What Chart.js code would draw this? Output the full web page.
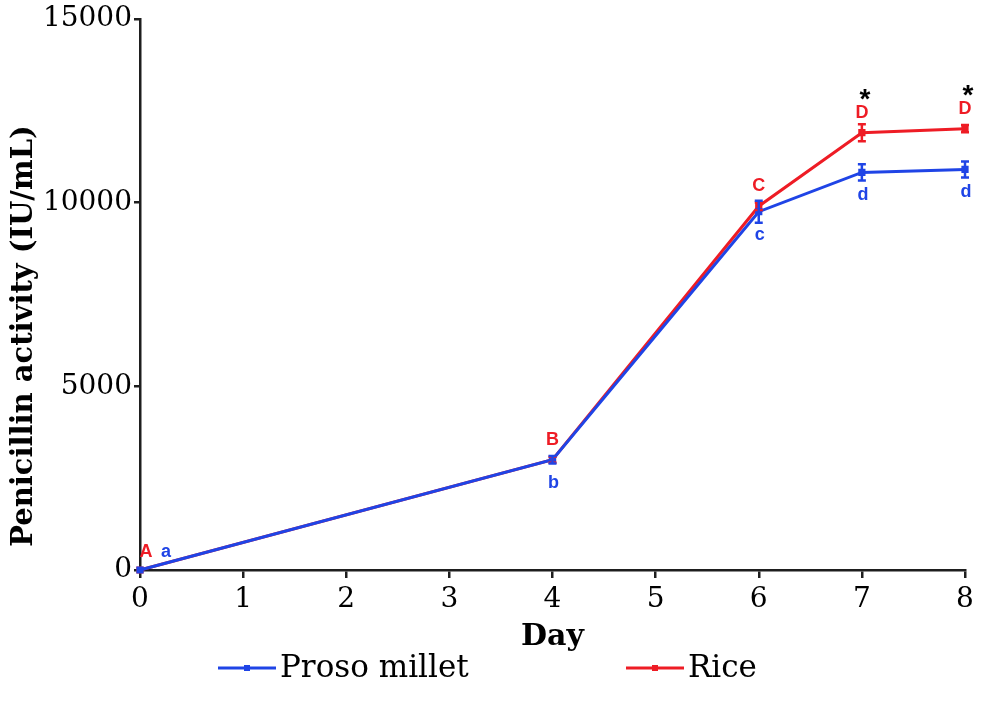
<!DOCTYPE html>
<html>
<head>
<meta charset="utf-8">
<script src="https://cdn.jsdelivr.net/npm/chart.js@4"></script>
<style>
html,body{margin:0;padding:0;background:#fff;}
#wrap{width:1000px;height:707px;}
</style>
</head>
<body>
<div id="wrap"><canvas id="c" width="1000" height="707"></canvas></div>
<script>
const days = [0, 4, 6, 7, 8];
const xTicks = [0, 1, 2, 3, 4, 5, 6, 7, 8];
const yTicks = [0, 5000, 10000, 15000];
const prosoMillet = [0, 3000, 9750, 10820, 10900];
const prosoErr = [0, 100, 300, 220, 220];
const rice = [0, 3000, 9900, 11900, 12010];
const riceErr = [0, 80, 100, 230, 100];
const prosoLetters = ['a', 'b', 'c', 'd', 'd'];
const riceLetters = ['A', 'B', 'C', 'D', 'D'];
const stars = ['', '', '', '*', '*'];
const seriesNames = ['Proso millet', 'Rice'];

const BLUE = '#1f44e6';
const RED = '#ee1c25';
const AXIS = '#1e1e1e';
const SERIF = '"DejaVu Serif", serif';
const SANS = '"Liberation Sans", Arial, sans-serif';

const errorBars = {
  id: 'errorBars',
  afterDatasetsDraw(chart) {
    const ctx = chart.ctx;
    const ys = chart.scales.y;
    const errs = [prosoErr, riceErr];
    ctx.save();
    [1, 0].forEach(di => {
      const meta = chart.getDatasetMeta(di);
      const ds = chart.data.datasets[di];
      ctx.strokeStyle = ds.borderColor;
      ctx.lineWidth = 2.5;
      meta.data.forEach((pt, i) => {
        const e = errs[di][i];
        if (!e) return;
        const v = ds.data[i].y;
        const y1 = ys.getPixelForValue(v - e), y2 = ys.getPixelForValue(v + e);
        ctx.beginPath();
        ctx.moveTo(pt.x, y1); ctx.lineTo(pt.x, y2);
        ctx.moveTo(pt.x - 4, y1); ctx.lineTo(pt.x + 4, y1);
        ctx.moveTo(pt.x - 4, y2); ctx.lineTo(pt.x + 4, y2);
        ctx.stroke();
      });
    });
    ctx.restore();
  }
};

const annotations = {
  id: 'annotations',
  afterDraw(chart) {
    const ctx = chart.ctx;
    const mP = chart.getDatasetMeta(0), mR = chart.getDatasetMeta(1);
    ctx.save();
    const letterFont = 'bold 18px ' + SANS;
    ctx.font = letterFont;
    ctx.textAlign = 'center';
    ctx.textBaseline = 'middle';
    days.forEach((d, i) => {
      const pP = mP.data[i], pR = mR.data[i];
      if (i === 0) {
        ctx.fillStyle = RED; ctx.fillText(riceLetters[i], pR.x + 6, pR.y - 18);
        ctx.fillStyle = BLUE; ctx.fillText(prosoLetters[i], pP.x + 26, pP.y - 18);
      } else {
        ctx.fillStyle = RED; ctx.fillText(riceLetters[i], pR.x, pR.y - 20);
        ctx.fillStyle = BLUE; ctx.fillText(prosoLetters[i], pP.x + 1, pP.y + 23);
      }
      if (stars[i]) {
        ctx.fillStyle = '#000';
        ctx.font = 'bold 28px ' + SANS;
        ctx.fillText(stars[i], pR.x + 3, pR.y - 32);
        ctx.font = letterFont;
      }
    });
    // Y axis title
    ctx.save();
    ctx.translate(24, 336);
    ctx.rotate(-Math.PI / 2);
    ctx.fillStyle = '#000';
    ctx.font = 'bold 29px ' + SERIF;
    ctx.fillText('Penicillin activity (IU/mL)', 0, 0);
    ctx.restore();
    // Legend
    const items = [
      {x: 218, color: BLUE, text: seriesNames[0]},
      {x: 626, color: RED, text: seriesNames[1]}
    ];
    const ly = 668;
    items.forEach(it => {
      ctx.strokeStyle = it.color; ctx.fillStyle = it.color; ctx.lineWidth = 3;
      ctx.beginPath(); ctx.moveTo(it.x, ly); ctx.lineTo(it.x + 58, ly); ctx.stroke();
      ctx.fillRect(it.x + 26, ly - 3, 6, 6);
      ctx.fillStyle = '#000';
      ctx.font = '31px ' + SERIF;
      ctx.textAlign = 'left';
      ctx.fillText(it.text, it.x + 62, ly + 1);
    });
    ctx.restore();
  }
};

new Chart(document.getElementById('c'), {
  type: 'line',
  data: {
    datasets: [
      {
        label: seriesNames[0],
        data: days.map((d, i) => ({x: d, y: prosoMillet[i]})),
        borderColor: BLUE, backgroundColor: BLUE,
        borderWidth: 3, pointStyle: 'rect', pointRadius: 3, pointHoverRadius: 3,
        tension: 0, clip: false
      },
      {
        label: seriesNames[1],
        data: days.map((d, i) => ({x: d, y: rice[i]})),
        borderColor: RED, backgroundColor: RED,
        borderWidth: 3, pointStyle: 'rect', pointRadius: 3, pointHoverRadius: 3,
        tension: 0, clip: false
      }
    ]
  },
  options: {
    responsive: false,
    animation: false,
    devicePixelRatio: 1,
    layout: {padding: {top: 18, right: 35, left: 0, bottom: 52}},
    plugins: {legend: {display: false}, tooltip: {enabled: false}},
    scales: {
      x: {
        type: 'linear', min: 0, max: 8,
        afterFit(s) { s.height = 85; },
        afterBuildTicks(s) { s.ticks = xTicks.map(v => ({value: v})); },
        border: {color: AXIS, width: 2.5},
        grid: {drawOnChartArea: false, drawTicks: true, tickLength: 8, color: AXIS, lineWidth: 2.5},
        ticks: {color: '#000', font: {family: SERIF, size: 28}, padding: 5, maxRotation: 0},
        title: {display: true, text: 'Day', color: '#000', font: {family: SERIF, size: 30, weight: 'bold'}, padding: 0}
      },
      y: {
        type: 'linear', min: 0, max: 15000,
        afterFit(s) { s.width = 140; },
        afterBuildTicks(s) { s.ticks = yTicks.map(v => ({value: v})); },
        border: {color: AXIS, width: 2.5},
        grid: {drawOnChartArea: false, drawTicks: true, tickLength: 6, color: AXIS, lineWidth: 2.5},
        ticks: {color: '#000', font: {family: SERIF, size: 28}, padding: 2, callback: v => String(v)}
      }
    }
  },
  plugins: [errorBars, annotations]
});
</script>
</body>
</html>
